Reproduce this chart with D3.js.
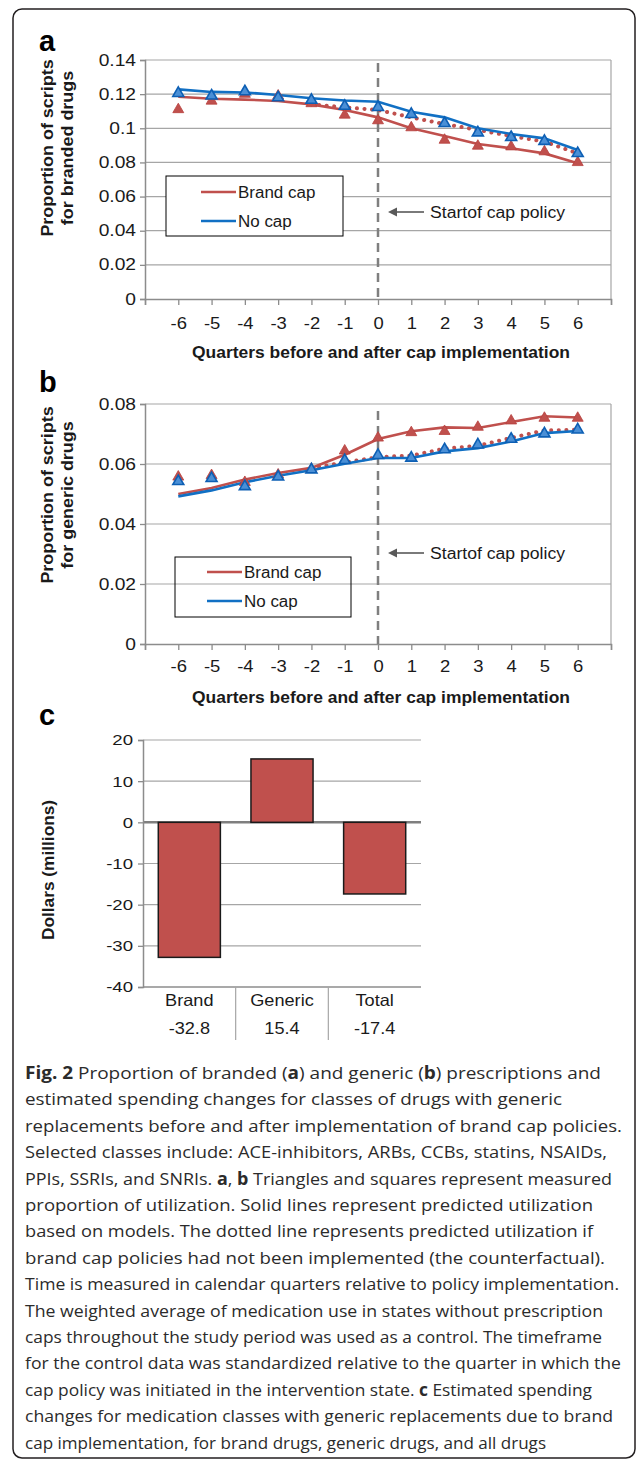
<!DOCTYPE html>
<html>
<head>
<meta charset="utf-8">
<script src="https://cdn.jsdelivr.net/npm/d3@7"></script>
<style>
  html, body { margin: 0; padding: 0; background: #fff; }
  svg { display: block; }
</style>
</head>
<body>
<svg id="fig" width="637" height="1460"></svg>
<script>
// ---- data ----
const quarters = [-6, -5, -4, -3, -2, -1, 0, 1, 2, 3, 4, 5, 6];

// panel a: branded share
const aBrandObs  = [0.111, 0.116, 0.120, 0.119, 0.1145, 0.1078, 0.1045, 0.1004, 0.0931, 0.0896, 0.0892, 0.0863, 0.0800];
const aBrandFit  = [0.1185, 0.1173, 0.1168, 0.1160, 0.1140, 0.1107, 0.1064, 0.1000, 0.0955, 0.0908, 0.0883, 0.0853, 0.0795];
const aNoCapObs  = [0.1205, 0.1190, 0.1215, 0.1180, 0.1165, 0.1130, 0.1123, 0.1082, 0.1029, 0.0974, 0.0947, 0.0924, 0.0853];
const aNoCapFit  = [0.1228, 0.1213, 0.1210, 0.1195, 0.1176, 0.1163, 0.1155, 0.1097, 0.1064, 0.1000, 0.0967, 0.0941, 0.0873];
const aCounterQ  = [-2, -1, 0, 1, 2, 3, 4, 5, 6];
const aCounter   = [0.1140, 0.1123, 0.1107, 0.1064, 0.1025, 0.0990, 0.0955, 0.0922, 0.0853];

// panel b: generic share
const bBrandObs  = [0.0557, 0.0562, 0.0539, 0.0564, 0.0583, 0.0644, 0.0687, 0.0705, 0.0709, 0.0723, 0.0744, 0.0753, 0.0753];
const bBrandFit  = [0.0500, 0.0520, 0.0548, 0.0570, 0.0587, 0.0631, 0.0683, 0.0709, 0.0722, 0.0720, 0.0740, 0.0759, 0.0755];
const bNoCapObs  = [0.0542, 0.0552, 0.0525, 0.0557, 0.0581, 0.0612, 0.0629, 0.0620, 0.0648, 0.0664, 0.0683, 0.0701, 0.0714];
const bNoCapFit  = [0.0492, 0.0512, 0.0539, 0.0561, 0.0579, 0.0601, 0.0620, 0.0620, 0.0642, 0.0653, 0.0675, 0.0703, 0.0710];
const bCounterQ  = [-2, -1, 0, 1, 2, 3, 4, 5, 6];
const bCounter   = [0.0587, 0.0605, 0.0623, 0.0628, 0.0651, 0.0661, 0.0687, 0.0712, 0.0714];

// panel c: spending change
const spendCats   = ["Brand", "Generic", "Total"];
const spendValues = [-32.8, 15.4, -17.4];
const spendTicks  = [-40, -30, -20, -10, 0, 10, 20];

const xTickValues = [-7, -6, -5, -4, -3, -2, -1, 0, 1, 2, 3, 4, 5, 6, 7];
const legendNames = ["Brand cap", "No cap"];

const captionLines = [
  "**Fig. 2** Proportion of branded (**a**) and generic (**b**) prescriptions and",
  "estimated spending changes for classes of drugs with generic",
  "replacements before and after implementation of brand cap policies.",
  "Selected classes include: ACE-inhibitors, ARBs, CCBs, statins, NSAIDs,",
  "PPIs, SSRIs, and SNRIs. **a**, **b** Triangles and squares represent measured",
  "proportion of utilization. Solid lines represent predicted utilization",
  "based on models. The dotted line represents predicted utilization if",
  "brand cap policies had not been implemented (the counterfactual).",
  "Time is measured in calendar quarters relative to policy implementation.",
  "The weighted average of medication use in states without prescription",
  "caps throughout the study period was used as a control. The timeframe",
  "for the control data was standardized relative to the quarter in which the",
  "cap policy was initiated in the intervention state. **c** Estimated spending",
  "changes for medication classes with generic replacements due to brand",
  "cap implementation, for brand drugs, generic drugs, and all drugs"
];
const captionEnds = [601, 562, 622, 607, 612, 593, 593, 605, 619, 603, 602, 621, 592, 613, 546];

// ---- styling ----
const RED = "#c0504d";
const BLUE = "#1170c4";
const GRID = "#a6a6a6";
const AXIS = "#8c8c8c";
const INK = "#1a1a1a";
const FONT = "'Liberation Sans', Arial, Helvetica, sans-serif";

const svg = d3.select("#fig");

// widen text along its baseline (the original chart font runs wide)
function stretch(sel, k) {
  sel.each(function () {
    const w = this.getComputedTextLength();
    if (w > 0) {
      this.setAttribute("textLength", w * k);
      this.setAttribute("lengthAdjust", "spacingAndGlyphs");
    }
  });
}

// outer rounded frame
svg.append("rect")
  .attr("x", 13).attr("y", 9)
  .attr("width", 622).attr("height", 1449)
  .attr("rx", 9)
  .attr("fill", "none")
  .attr("stroke", "#231f20")
  .attr("stroke-width", 1.5);

function panelLetter(letter, y) {
  svg.append("text")
    .attr("x", 39).attr("y", y)
    .attr("font-family", FONT)
    .attr("font-weight", "bold")
    .attr("font-size", 29)
    .attr("fill", "#000")
    .text(letter);
}

/* ------------------------------------------------------------------ *
 * Line panels (a, b)
 * ------------------------------------------------------------------ */
function linePanel(cfg) {
  const x = d3.scaleLinear().domain([-7, 7]).range([145, 611]);
  const y = d3.scaleLinear().domain([0, cfg.yMax]).range([cfg.y0, cfg.yTop]);
  const g = svg.append("g");
  const yTicks = d3.range(0, cfg.yMax + 1e-9, 0.02);
  const fmt = (d) => d3.format(".2~f")(d);

  // grid
  g.append("g").selectAll("line").data(yTicks.filter((d) => d > 0)).enter().append("line")
    .attr("x1", x(-7)).attr("x2", x(7))
    .attr("y1", (d) => y(d)).attr("y2", (d) => y(d))
    .attr("stroke", GRID).attr("stroke-width", 1.2);
  // right border of plot area
  g.append("line")
    .attr("x1", x(7)).attr("x2", x(7))
    .attr("y1", y(cfg.yMax)).attr("y2", y(0))
    .attr("stroke", GRID).attr("stroke-width", 1.2);

  // axes
  const ax = g.append("g")
    .attr("transform", `translate(${x(-7)},0)`)
    .call(d3.axisLeft(y).tickValues(yTicks).tickSize(5).tickPadding(4).tickFormat(fmt));
  const bx = g.append("g")
    .attr("transform", `translate(0,${y(0)})`)
    .call(d3.axisBottom(x).tickValues(xTickValues).tickSize(6).tickPadding(cfg.xPad)
      .tickFormat((d) => (Math.abs(d) === 7 ? "" : String(d))));
  for (const a of [ax, bx]) {
    a.select(".domain").attr("stroke", AXIS).attr("stroke-width", 1.5);
    a.selectAll(".tick line").attr("stroke", AXIS).attr("stroke-width", 1.3);
    a.selectAll("text").attr("font-family", FONT).attr("font-size", 16).attr("fill", INK);
  }
  stretch(ax.selectAll("text"), 1.2);
  stretch(bx.selectAll("text"), 1.15);

  // start-of-policy marker
  g.append("line")
    .attr("x1", x(0)).attr("x2", x(0))
    .attr("y1", cfg.dashTop).attr("y2", y(0))
    .attr("stroke", "#7f7f7f").attr("stroke-width", 2.5)
    .attr("stroke-dasharray", "9 6");

  const toPts = (qs, vs) => qs.map((q, i) => ({ q, v: vs[i] }));
  const line = d3.line().x((d) => x(d.q)).y((d) => y(d.v));

  // counterfactual (dotted)
  g.append("path")
    .datum(toPts(cfg.counterQ, cfg.counter))
    .attr("d", line)
    .attr("fill", "none").attr("stroke", RED)
    .attr("stroke-width", 4).attr("stroke-linecap", "round")
    .attr("stroke-dasharray", "0.1 7.5");

  // fitted lines
  g.append("path").datum(toPts(quarters, cfg.brandFit)).attr("d", line)
    .attr("fill", "none").attr("stroke", RED).attr("stroke-width", 2.6);
  g.append("path").datum(toPts(quarters, cfg.noCapFit)).attr("d", line)
    .attr("fill", "none").attr("stroke", BLUE).attr("stroke-width", 2.6);

  // observed triangles
  const tri = d3.symbol(d3.symbolTriangle, 52);
  g.append("g").selectAll("path").data(toPts(quarters, cfg.brandObs)).enter().append("path")
    .attr("d", tri)
    .attr("transform", (d) => `translate(${x(d.q)},${y(d.v)})`)
    .attr("fill", RED).attr("stroke", "#b8403d").attr("stroke-width", 0.8);
  g.append("g").selectAll("path").data(toPts(quarters, cfg.noCapObs)).enter().append("path")
    .attr("d", tri)
    .attr("transform", (d) => `translate(${x(d.q)},${y(d.v)})`)
    .attr("fill", "#4a8fd6").attr("stroke", "#0d5fb4").attr("stroke-width", 1.6);

  // legend
  const L = cfg.legend;
  g.append("rect")
    .attr("x", L.x).attr("y", L.y).attr("width", L.w).attr("height", L.h)
    .attr("fill", L.fill).attr("stroke", "#000").attr("stroke-width", 1);
  legendNames.forEach((name, i) => {
    const ly = L.rows[i];
    g.append("line")
      .attr("x1", L.lx).attr("x2", L.lx + 35).attr("y1", ly).attr("y2", ly)
      .attr("stroke", i === 0 ? RED : BLUE).attr("stroke-width", 2.6);
    const t = g.append("text")
      .attr("x", L.lx + 37).attr("y", ly).attr("dy", "0.35em")
      .attr("font-family", FONT).attr("font-size", 16).attr("fill", INK)
      .text(name);
    stretch(t, 1.06);
  });

  // annotation
  const ay = cfg.annotY;
  g.append("line")
    .attr("x1", 424).attr("x2", 394).attr("y1", ay).attr("y2", ay)
    .attr("stroke", "#595959").attr("stroke-width", 1.6);
  g.append("path")
    .attr("d", `M388,${ay} L397,${ay - 4.5} L397,${ay + 4.5} Z`)
    .attr("fill", "#595959");
  const at = g.append("text")
    .attr("x", 430).attr("y", ay).attr("dy", "0.35em")
    .attr("font-family", FONT).attr("font-size", 16).attr("fill", INK)
    .text("Startof cap policy");
  stretch(at, 1.1);

  // axis titles
  g.append("text")
    .attr("x", 381).attr("y", cfg.xTitleY)
    .attr("text-anchor", "middle")
    .attr("font-family", FONT).attr("font-weight", "bold").attr("font-size", 16.5).attr("fill", INK)
    .attr("textLength", 378).attr("lengthAdjust", "spacingAndGlyphs")
    .text("Quarters before and after cap implementation");
  cfg.yTitle.forEach((txt, i) => {
    const t = g.append("text")
      .attr("transform", `translate(${i === 0 ? 53 : 73},${cfg.yTitleY}) rotate(-90)`)
      .attr("text-anchor", "middle")
      .attr("font-family", FONT).attr("font-weight", "bold").attr("font-size", 16).attr("fill", INK)
      .text(txt);
    stretch(t, 1.12);
  });
}

panelLetter("a", 51);
linePanel({
  yMax: 0.14, y0: 299, yTop: 60, xPad: 13,
  brandObs: aBrandObs, brandFit: aBrandFit, noCapObs: aNoCapObs, noCapFit: aNoCapFit,
  counterQ: aCounterQ, counter: aCounter,
  dashTop: 63,
  legend: { x: 166, y: 176, w: 177, h: 60, fill: "#fff", lx: 201, rows: [192, 221] },
  annotY: 212,
  xTitleY: 358,
  yTitle: ["Proportion of scripts", "for branded drugs"], yTitleY: 148,
});

panelLetter("b", 392);
linePanel({
  yMax: 0.08, y0: 644, yTop: 404, xPad: 11,
  brandObs: bBrandObs, brandFit: bBrandFit, noCapObs: bNoCapObs, noCapFit: bNoCapFit,
  counterQ: bCounterQ, counter: bCounter,
  dashTop: 411,
  legend: { x: 175, y: 557, w: 176, h: 60, fill: "none", lx: 207, rows: [572, 601] },
  annotY: 553,
  xTitleY: 703,
  yTitle: ["Proportion of scripts", "for generic drugs"], yTitleY: 495,
});

/* ------------------------------------------------------------------ *
 * Bar panel (c)
 * ------------------------------------------------------------------ */
panelLetter("c", 725);
{
  const y = d3.scaleLinear().domain([-40, 20]).range([987, 740]);
  const x = d3.scaleBand().domain(spendCats).range([143, 421]).paddingInner(0.33).paddingOuter(0.165);
  const g = svg.append("g");
  const [x0, x1] = x.range();

  g.append("g").selectAll("line").data(spendTicks.filter((d) => d !== 0 && d !== -40)).enter().append("line")
    .attr("x1", x0).attr("x2", x1)
    .attr("y1", (d) => y(d)).attr("y2", (d) => y(d))
    .attr("stroke", GRID).attr("stroke-width", 1.2);
  g.append("line")
    .attr("x1", x0).attr("x2", x1).attr("y1", y(-40)).attr("y2", y(-40))
    .attr("stroke", AXIS).attr("stroke-width", 1.5);
  g.append("line")
    .attr("x1", x0).attr("x2", x1).attr("y1", y(0)).attr("y2", y(0))
    .attr("stroke", "#7f7f7f").attr("stroke-width", 2.5);

  const ax = g.append("g")
    .attr("transform", `translate(${x0},0)`)
    .call(d3.axisLeft(y).tickValues(spendTicks).tickSize(5).tickPadding(5).tickFormat((d) => String(d)));
  ax.select(".domain").attr("stroke", AXIS).attr("stroke-width", 1.5);
  ax.selectAll(".tick line").attr("stroke", AXIS).attr("stroke-width", 1.3);
  ax.selectAll("text").attr("font-family", FONT).attr("font-size", 15.5).attr("fill", INK);
  stretch(ax.selectAll("text"), 1.2);

  g.append("g").selectAll("rect").data(spendCats).enter().append("rect")
    .attr("x", (d) => x(d))
    .attr("width", x.bandwidth())
    .attr("y", (d, i) => y(Math.max(0, spendValues[i])))
    .attr("height", (d, i) => Math.abs(y(spendValues[i]) - y(0)))
    .attr("fill", RED).attr("stroke", "#1a1a1a").attr("stroke-width", 1.5);

  // table-style category labels
  const step = x.step();
  g.append("g").selectAll("line").data(spendCats.slice(1)).enter().append("line")
    .attr("x1", (d) => x(d) - step * x.paddingInner() / 2)
    .attr("x2", (d) => x(d) - step * x.paddingInner() / 2)
    .attr("y1", y(-40)).attr("y2", 1040)
    .attr("stroke", GRID).attr("stroke-width", 1.2);
  const catT = g.append("g").selectAll("text").data(spendCats).enter().append("text")
    .attr("x", (d) => x(d) + x.bandwidth() / 2).attr("y", 1005.5)
    .attr("text-anchor", "middle")
    .attr("font-family", FONT).attr("font-size", 16.5).attr("fill", INK)
    .text((d) => d);
  const valT = g.append("g").selectAll("text").data(spendCats).enter().append("text")
    .attr("x", (d) => x(d) + x.bandwidth() / 2).attr("y", 1033.5)
    .attr("text-anchor", "middle")
    .attr("font-family", FONT).attr("font-size", 16.5).attr("fill", INK)
    .text((d, i) => String(spendValues[i]));
  stretch(catT, 1.1);
  stretch(valT, 1.1);

  const yt = g.append("text")
    .attr("transform", `translate(54,870) rotate(-90)`)
    .attr("text-anchor", "middle")
    .attr("font-family", FONT).attr("font-weight", "bold").attr("font-size", 16).attr("fill", INK)
    .text("Dollars (millions)");
  stretch(yt, 1.08);
}

/* ------------------------------------------------------------------ *
 * Caption
 * ------------------------------------------------------------------ */
{
  const cap = svg.append("g");
  captionLines.forEach((ln, i) => {
    const t = cap.append("text")
      .attr("x", 25).attr("y", 1079 + i * 26.4)
      .attr("font-family", "'Open Sans', 'Noto Sans', sans-serif")
      .attr("font-size", 17)
      .attr("fill", "#2b2b2b");
    ln.split("**").forEach((seg, j) => {
      if (!seg) return;
      t.append("tspan").attr("font-weight", j % 2 ? "bold" : "normal").text(seg);
    });
    t.attr("textLength", captionEnds[i] - 25).attr("lengthAdjust", "spacingAndGlyphs");
  });
}
</script>
</body>
</html>
